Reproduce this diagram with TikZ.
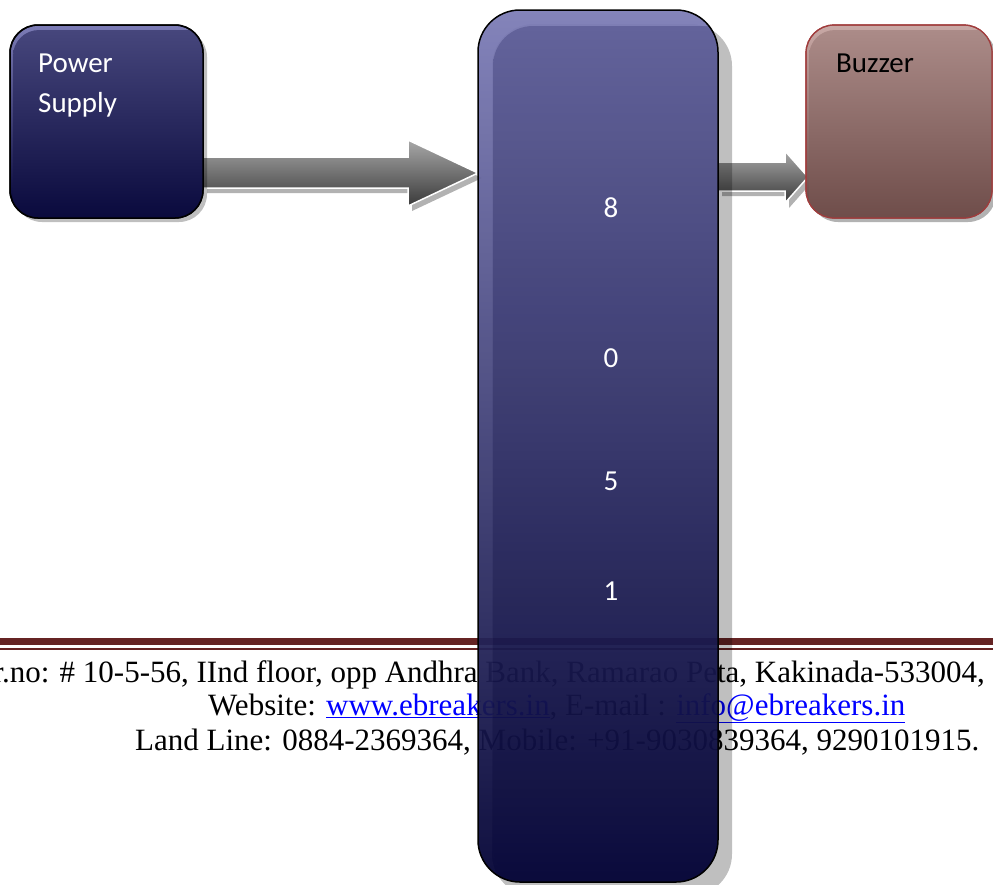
\documentclass[tikz,border=0pt]{standalone}
\usepackage{fontspec}
\setmainfont{Liberation Serif}
\newfontfamily\labfont{Carlito}
\usetikzlibrary{shadows,calc}
\definecolor{footred}{HTML}{652424}
\definecolor{linkblue}{HTML}{0000FF}
\definecolor{bluehi}{HTML}{7C7CB6}
\definecolor{bluetop}{HTML}{5E5E99}
\definecolor{bluemid}{HTML}{222260}
\definecolor{psTop}{HTML}{46467C}
\definecolor{bluebot}{HTML}{000033}
\definecolor{bzTop}{HTML}{AB8B88}
\definecolor{bzBot}{HTML}{654340}
\definecolor{bzHi}{HTML}{C9A9A6}
\definecolor{bzEdge}{HTML}{A03C3C}
\definecolor{arrTop}{HTML}{A8A8A8}
\definecolor{arrBot}{HTML}{3A3A3A}
\newcommand\blockarrow[6]{% style, tail (top-left of shaft), tip, shaft height, head half height, head length
  \path[#1] let \p1=(#2), \p2=(#3) in
    (\x1,\y1) -- (\x2-#6,\y1) -- (\x2-#6,\y2+#5) -- (\x2,\y2) -- (\x2-#6,\y2-#5)
    -- (\x2-#6,\y1-#4) -- (\x1,\y1-#4) -- cycle;}
\begin{document}
\begin{tikzpicture}[x=1pt,y=-1pt,
  boxlabel/.style={font=\labfont\fontsize{29}{40}\selectfont, inner sep=0pt, align=left},
  digit/.style={font=\labfont\fontsize{29}{34}\selectfont, text=white, inner sep=0pt, anchor=base},
  foot/.style={font=\fontsize{31}{36}\selectfont, inner sep=0pt},
  arrowstyle/.style={top color=arrTop, bottom color=arrBot, draw=white, line width=1.5pt,
    drop shadow={shadow xshift=4pt, shadow yshift=-5pt, fill=black, opacity=0.3}},
  bluebox/.style={draw=black, line width=1.5pt, outer sep=0pt, inner sep=0pt,
    drop shadow={shadow xshift=#1, shadow yshift=-#1, fill=black, opacity=0.25}},
  geom/.style={inner sep=0pt, outer sep=0pt},
]
\useasboundingbox (0,0) rectangle (993,884);
\clip (0,0) rectangle (993,884);

% footer
\fill[footred] (0,638) rectangle (993,645);
\fill[footred] (0,648) rectangle (993,650);
\node[foot, anchor=base east] (f1) at (985,682) {Dr.no: \# 10-5-56, IInd floor, opp Andhra Bank, Ramarao Peta, Kakinada-533004,};
\node[foot, anchor=base west] (f2) at (208,715) {Website: \textcolor{linkblue}{\underline{www.ebreakers.in}}, E-mail : \textcolor{linkblue}{\underline{info@ebreakers.in}}};
\node[foot, anchor=base west] (f3) at (135,750) {Land Line: 0884-2369364, Mobile: +91-9030839364, 9290101915.};

% node placeholders for geometry
\path (106.5,121.5) node[geom, minimum width=193pt, minimum height=193pt] (ps) {};
\path (598,446) node[geom, minimum width=240pt, minimum height=872pt] (mcu) {};
\path (899,121.5) node[geom, minimum width=186pt, minimum height=193pt] (bz) {};

% arrows (drawn first, boxes cover their ends)
\blockarrow{arrowstyle}{ps.east |- 0,157}{mcu.west |- 0,173}{31pt}{33pt}{70pt}
\blockarrow{arrowstyle}{mcu.east |- 0,162}{[xshift=2pt]bz.west |- 0,177}{29pt}{26pt}{23pt}

% Power supply box
\path[bluebox=4pt, rounded corners=28pt, top color=bluehi, bottom color=bluebot]
  (ps.north west) rectangle (ps.south east);
\begin{scope}
  \clip[rounded corners=28pt] (ps.north west) rectangle (ps.south east);
  \shade[rounded corners=26pt, top color=psTop, bottom color=bluebot]
    ([xshift=3pt,yshift=-5pt]ps.north west) rectangle ([xshift=30pt,yshift=-30pt]ps.south east);
\end{scope}
\draw[black, line width=1.5pt, rounded corners=28pt] (ps.north west) rectangle (ps.south east);

% central box: shadow, then semi-transparent body
\fill[black, opacity=0.25, rounded corners=42pt]
  ([xshift=14pt,yshift=-14pt]mcu.north west) rectangle ([xshift=14pt,yshift=-14pt]mcu.south east);
\begin{scope}[transparency group, opacity=0.94]
  \fill[rounded corners=42pt, top color=bluehi, bottom color=bluebot]
    (mcu.north west) rectangle (mcu.south east);
  \begin{scope}
    \clip[rounded corners=42pt] (mcu.north west) rectangle (mcu.south east);
    \shade[rounded corners=40pt, top color=bluetop, middle color=bluemid, bottom color=bluebot]
      ([xshift=15pt,yshift=-16pt]mcu.north west) rectangle ([xshift=50pt,yshift=-2pt]mcu.south east);
  \end{scope}
\end{scope}
\draw[black, line width=1.5pt, rounded corners=42pt] (mcu.north west) rectangle (mcu.south east);

% buzzer box
\path[draw=bzEdge, line width=1.2pt, rounded corners=28pt, top color=bzHi, bottom color=bzBot,
  drop shadow={shadow xshift=4pt, shadow yshift=-4pt, fill=black, opacity=0.3}]
  (bz.north west) rectangle (bz.south east);
\begin{scope}
  \clip[rounded corners=28pt] (bz.north west) rectangle (bz.south east);
  \shade[rounded corners=26pt, top color=bzTop, bottom color=bzBot]
    ([xshift=3pt,yshift=-5pt]bz.north west) rectangle ([xshift=30pt,yshift=-30pt]bz.south east);
\end{scope}
\draw[bzEdge, line width=1.2pt, rounded corners=28pt] (bz.north west) rectangle (bz.south east);

% labels
\node[boxlabel, text=white, anchor=base west] (pst) at (38,112) {Power\\Supply};
\node[boxlabel, text=black, anchor=base west] (bzt) at (836,72) {Buzzer};
\node[digit] (d8) at (611,217) {8};
\node[digit] (d0) at (611,367) {0};
\node[digit] (d5) at (611,490) {5};
\node[digit] (d1) at (611,600) {1};
\end{tikzpicture}
\end{document}
